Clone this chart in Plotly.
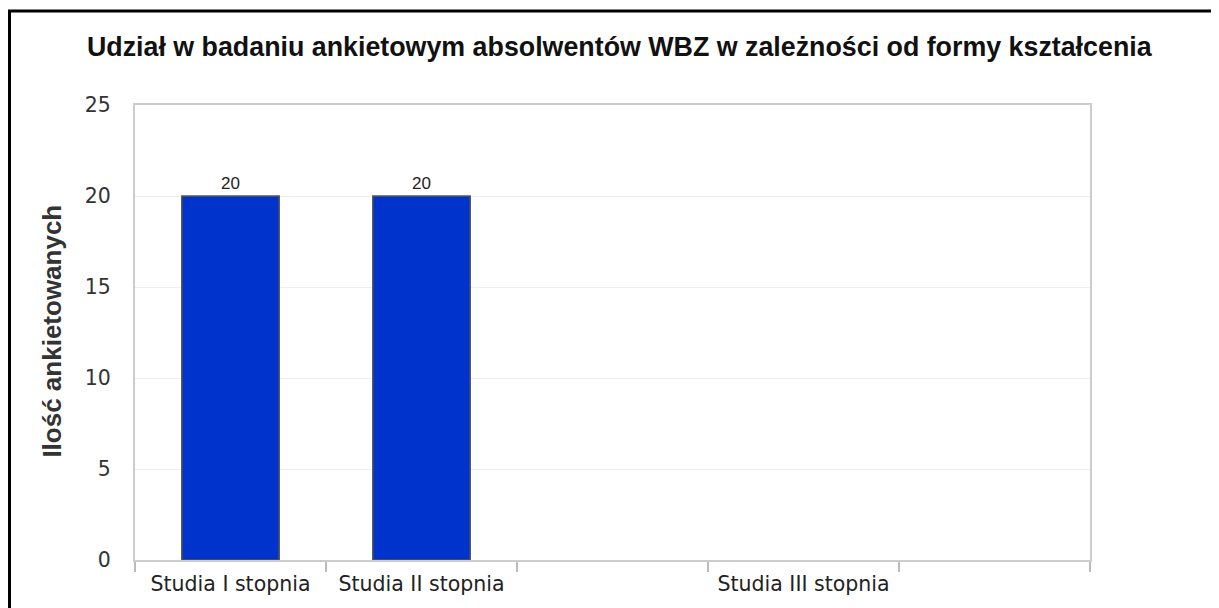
import plotly.graph_objects as go

# categories (the chart leaves two unlabeled slots on the axis)
categories = ["Studia I stopnia", "Studia II stopnia", " ", "Studia III stopnia", "  "]
respondents = [20, 20, None, None, None]
bar_labels = ["20", "20", "", "", ""]

y_ticks = [0, 5, 10, 15, 20, 25]

fig = go.Figure()

fig.add_trace(go.Bar(
    x=categories,
    y=respondents,
    text=bar_labels,
    textposition="outside",
    textfont=dict(family="Liberation Sans", size=17, color="#222"),
    marker=dict(color="#0033cc", line=dict(color="#555555", width=1.5)),
    width=0.51,
    cliponaxis=False,
))

# outer black frame of the picture
fig.add_shape(type="rect", xref="paper", yref="paper",
              x0=-0.1314, x1=1.15, y0=-0.14, y1=1.2066,
              line=dict(color="black", width=3), layer="above")

# y-axis title
fig.add_annotation(text="<b>Ilość ankietowanych</b>", xref="paper", yref="paper",
                   x=-0.0864, y=0.503, xanchor="center", yanchor="middle",
                   textangle=-90, showarrow=False,
                   font=dict(family="Liberation Sans", size=26, color="#333"))

# the page body has an 8px margin, so the figure is 8px smaller
fig.update_layout(
    title=dict(text="<b>Udział w badaniu ankietowym absolwentów WBZ w zależności od formy kształcenia</b>",
               xref="container", yref="container", x=0.0652, y=0.936,
               xanchor="left", yanchor="middle",
               font=dict(family="Liberation Sans", size=26.8, color="#111")),
    width=1211, height=600,
    margin=dict(l=127, r=129, t=97, b=48),
    paper_bgcolor="white", plot_bgcolor="white",
    showlegend=False,
    xaxis=dict(
        type="category",
        tickson="boundaries",
        ticks="outside", ticklen=10, tickcolor="#bbbbbb", tickwidth=1.5,
        ticklabelstandoff=4,
        showline=True, linecolor="#cccccc", linewidth=2, mirror=True,
        showgrid=False,
        tickfont=dict(family="DejaVu Sans", size=20.5, color="#222"),
    ),
    yaxis=dict(
        range=[0, 25],
        tickvals=y_ticks,
        ticks="outside", ticklen=18, tickcolor="rgba(0,0,0,0)",
        showline=True, linecolor="#cccccc", linewidth=2, mirror=True,
        showgrid=True, gridcolor="#eeeeee", gridwidth=1,
        zeroline=False,
        tickfont=dict(family="DejaVu Sans", size=20.5, color="#333"),
    ),
)

fig.write_html("out.html")
